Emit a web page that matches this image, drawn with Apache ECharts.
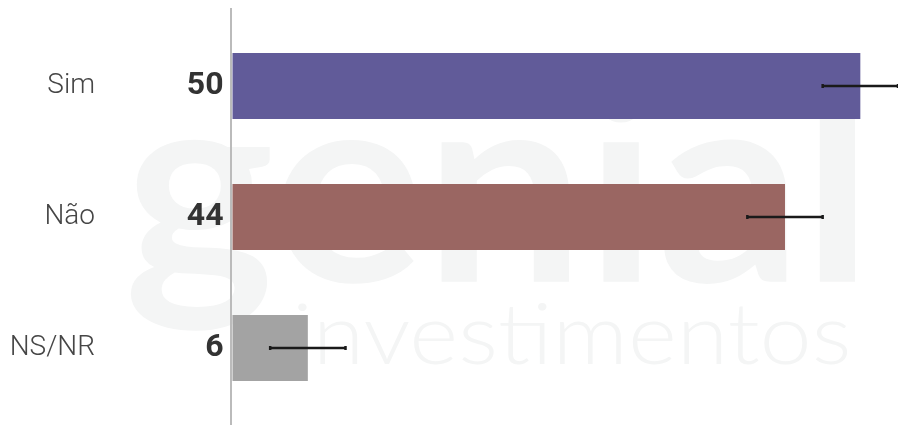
<!DOCTYPE html>
<html>
<head>
<meta charset="utf-8">
<script src="https://cdn.jsdelivr.net/npm/echarts@6/dist/echarts.min.js"></script>
<style>
html,body{margin:0;padding:0;background:#fff;}
#chart{width:898px;height:425px;}
</style>
</head>
<body>
<div id="chart"></div>
<script>
var categories = ['Sim', 'Não', 'NS/NR'];
var values = [50, 44, 6];
var errLow = [47, 41, 3];
var errHigh = [53, 47, 9];
var barColors = ['#615b99', '#9a6662', '#a3a3a3'];

var chart = echarts.init(document.getElementById('chart'), null, {renderer: 'canvas'});

var errData = categories.map(function (c, i) { return [i, errLow[i], errHigh[i]]; });

chart.setOption({
  animation: false,
  backgroundColor: '#ffffff',
  grid: {left: 232.5, top: 20.5, height: 393, width: 667.8, containLabel: false},
  xAxis: {type: 'value', min: 0, max: 53, show: false},
  yAxis: {
    type: 'category', data: categories, inverse: true,
    axisLine: {show: false}, axisTick: {show: false}, splitLine: {show: false},
    axisLabel: {margin: 137.5, fontFamily: 'Roboto', fontWeight: 300, fontSize: 28, color: '#464646'}
  },
  graphic: [
    {type: 'text', z: -10, silent: true, left: 124, top: 58, scaleX: 1.048,
     style: {text: 'genial', fontFamily: 'Lato', fontWeight: 700, fontSize: 272, fill: '#f4f5f5'}},
    {type: 'text', z: -10, silent: true, left: 292, top: 295, scaleX: 1.115,
     style: {text: 'investimentos', fontFamily: 'Lato', fontWeight: 300, fontSize: 84, fill: '#f4f5f5'}},
    {type: 'line', z: 100, silent: true,
     shape: {x1: 231, y1: 8, x2: 231, y2: 425},
     style: {stroke: '#bbbbbb', lineWidth: 2}}
  ],
  series: [
    {
      type: 'bar', barWidth: 66,
      data: values.map(function (v, i) { return {value: v, itemStyle: {color: barColors[i]}}; }),
      label: {show: true, position: 'left', distance: 9, formatter: '{c}',
              fontFamily: 'Roboto', fontWeight: 700, fontSize: 32, color: '#333333'}
    },
    {
      type: 'custom',
      data: errData,
      encode: {y: 0, x: [1, 2]},
      z: 10,
      renderItem: function (params, api) {
        var yi = api.value(0);
        var lo = api.coord([api.value(1), yi]);
        var hi = api.coord([api.value(2), yi]);
        var h = 2;
        return {
          type: 'group',
          children: [
            {type: 'line', shape: {x1: lo[0], y1: lo[1], x2: hi[0], y2: hi[1]}, style: {stroke: '#1a1a1a', lineWidth: 2.5}},
            {type: 'line', shape: {x1: lo[0], y1: lo[1] - h, x2: lo[0], y2: lo[1] + h}, style: {stroke: '#1a1a1a', lineWidth: 2.5}},
            {type: 'line', shape: {x1: hi[0], y1: hi[1] - h, x2: hi[0], y2: hi[1] + h}, style: {stroke: '#1a1a1a', lineWidth: 2.5}}
          ]
        };
      }
    }
  ]
});
</script>
</body>
</html>
